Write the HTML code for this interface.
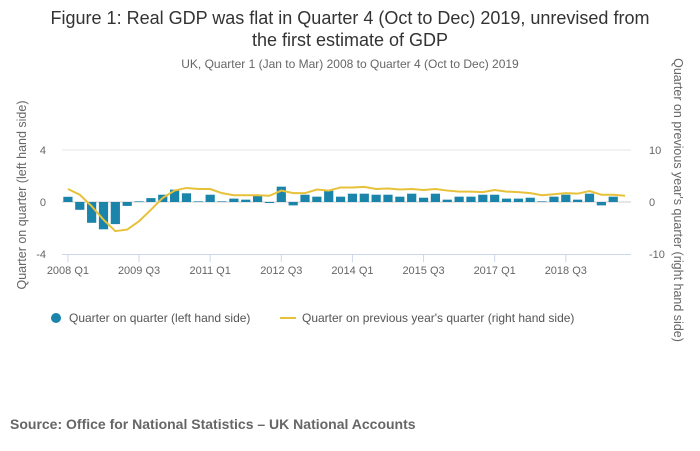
<!DOCTYPE html>
<html><head><meta charset="utf-8"><style>
body{margin:0;background:#fff;font-family:"Liberation Sans",sans-serif}
svg{display:block}
</style></head><body>
<svg id="c" width="700" height="451" font-family="Liberation Sans, sans-serif">
<text x="350" y="24" text-anchor="middle" font-size="18" fill="#333">Figure 1: Real GDP was flat in Quarter 4 (Oct to Dec) 2019, unrevised from</text>
<text x="350" y="46" text-anchor="middle" font-size="18" fill="#333">the first estimate of GDP</text>
<text x="350" y="68" text-anchor="middle" font-size="12" fill="#666">UK, Quarter 1 (Jan to Mar) 2008 to Quarter 4 (Oct to Dec) 2019</text>
<text transform="translate(26,195) rotate(-90)" text-anchor="middle" font-size="12.5" fill="#666">Quarter on quarter (left hand side)</text>
<text transform="translate(674,200) rotate(90)" text-anchor="middle" font-size="12.5" fill="#666">Quarter on previous year's quarter (right hand side)</text>
<g id="plot"></g>
<g>
<circle cx="56" cy="318" r="5" fill="#1a84ab"/>
<text x="69" y="322" font-size="12" fill="#555">Quarter on quarter (left hand side)</text>
<line x1="280" y1="318" x2="296" y2="318" stroke="#e8c13a" stroke-width="2"/>
<text x="302" y="322" font-size="12" fill="#555">Quarter on previous year's quarter (right hand side)</text>
</g>
<text x="10" y="429" font-size="14" font-weight="bold" fill="#666">Source: Office for National Statistics – UK National Accounts</text>
</svg>
<script>
const qoq=[0.4,-0.6,-1.6,-2.1,-1.7,-0.3,0.05,0.3,0.56,0.95,0.67,0.05,0.56,0.05,0.26,0.18,0.56,-0.08,1.18,-0.26,0.56,0.41,0.87,0.41,0.64,0.64,0.56,0.56,0.41,0.64,0.33,0.64,0.18,0.41,0.41,0.56,0.56,0.26,0.26,0.33,0.05,0.41,0.56,0.18,0.64,-0.26,0.41,0.0];
const yoy=[2.5,1.4,-0.8,-3.4,-5.6,-5.3,-3.7,-1.5,0.8,2.2,2.7,2.5,2.5,1.7,1.3,1.3,1.3,1.2,2.2,1.7,1.7,2.4,2.2,2.8,2.8,2.9,2.5,2.6,2.4,2.5,2.3,2.5,2.2,2.0,2.0,1.9,2.3,2.0,1.9,1.7,1.3,1.5,1.7,1.6,2.1,1.4,1.4,1.2];
const xTickLabels=["2008 Q1","2009 Q3","2011 Q1","2012 Q3","2014 Q1","2015 Q3","2017 Q1","2018 Q3"];
const leftTicks=[4,0,-4];
const rightTicks=[10,0,-10];
const NS="http://www.w3.org/2000/svg";
const g=document.getElementById('plot');
const X0=62,X1=631,step=(X1-X0)/48;
const x=i=>X0+step*(i+0.5);
const yL=v=>202-v*13;
const yR=v=>202-v*5.2;
function mk(t,a){const e=document.createElementNS(NS,t);for(const k in a)e.setAttribute(k,a[k]);g.appendChild(e);return e;}
let e=mk('line',{x1:X0,x2:X1,y1:yL(4),y2:yL(4),stroke:'#e6e6e6'});


e=mk('line',{x1:X0,x2:X1,y1:yL(0),y2:yL(0),stroke:'#ccc'});


e=mk('line',{x1:X0,x2:X1,y1:yL(-4)+0.5,y2:yL(-4)+0.5,stroke:'#ccd6eb'});


leftTicks.forEach(v=>{const t=mk('text',{x:46,y:yL(v)+4,'text-anchor':'end','font-size':11,fill:'#666'});t.textContent=v;

});
rightTicks.forEach(v=>{const t=mk('text',{x:649,y:yR(v)+4,'text-anchor':'start','font-size':11,fill:'#666'});t.textContent=v;

});
xTickLabels.forEach((l,k)=>{const i=k*6;
const tk=mk('line',{x1:x(i),x2:x(i),y1:254,y2:262,stroke:'#ccd6eb'});


const t=mk('text',{x:x(i),y:274,'text-anchor':'middle','font-size':11,fill:'#666'});t.textContent=l;

});
qoq.forEach((v,i)=>{const y0=yL(0),y1=yL(v);
const b=mk('rect',{x:x(i)-4.6,width:9.2,y:Math.min(y0,y1),height:Math.abs(y1-y0),fill:'#1a84ab'});

});
const p=mk('polyline',{points:yoy.map((v,i)=>x(i)+','+yR(v)).join(' '),fill:'none',stroke:'#e8c13a','stroke-width':2});


</script>
</body></html>
